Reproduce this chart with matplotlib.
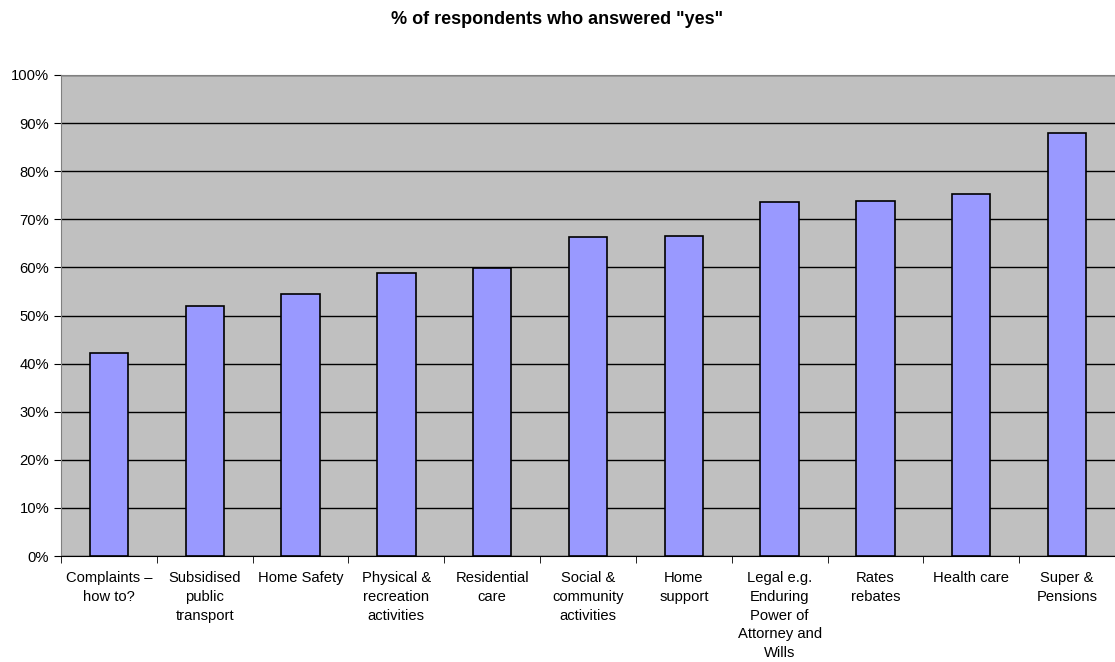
import numpy as np
import matplotlib
matplotlib.use("Agg")
import matplotlib.pyplot as plt
from matplotlib.ticker import FixedLocator, PercentFormatter

categories = [
    "Complaints –\nhow to?",
    "Subsidised\npublic\ntransport",
    "Home Safety",
    "Physical &\nrecreation\nactivities",
    "Residential\ncare",
    "Social &\ncommunity\nactivities",
    "Home\nsupport",
    "Legal e.g.\nEnduring\nPower of\nAttorney and\nWills",
    "Rates\nrebates",
    "Health care",
    "Super &\nPensions",
]
yes_pct = [42.3, 52.0, 54.5, 58.8, 59.8, 66.3, 66.5, 73.5, 73.8, 75.2, 87.9]

plt.rcParams["font.family"] = ["Liberation Sans", "DejaVu Sans"]

fig = plt.figure(figsize=(11.15, 6.62), dpi=100)
ax = fig.add_axes([61 / 1115, 1 - 556 / 662, 1 - 61 / 1115, (556 - 75) / 662])
ax.set_facecolor("#C0C0C0")

x = np.arange(len(categories))
ax.bar(x, yes_pct, width=0.4, color="#9999FF", edgecolor="black", linewidth=1.2, zorder=3)

ax.set_ylim(0, 100)
ax.set_xlim(-0.5, len(categories) - 0.5)
ax.set_yticks(np.arange(0, 101, 10))
ax.yaxis.set_major_formatter(PercentFormatter(decimals=0))
ax.grid(axis="y", color="black", lw=1, zorder=1)

ax.set_xticks(x)
ax.set_xticklabels(categories, fontsize=10.6, va="top", linespacing=1.42)
ax.tick_params(axis="x", which="major", length=0, pad=11)
ax.xaxis.set_minor_locator(FixedLocator(np.arange(-0.5, len(categories), 1.0)))
ax.tick_params(axis="x", which="minor", length=5, color="black", direction="out")
ax.tick_params(axis="y", labelsize=10.6, length=5, direction="out")

ax.spines["right"].set_visible(False)
ax.spines["top"].set_color("#808080")
ax.spines["left"].set_color("#808080")
ax.spines["bottom"].set_color("black")

fig.text(0.5, 1 - 20 / 662, '% of respondents who answered "yes"',
         ha="center", va="center", fontsize=13, fontweight="bold")

fig.savefig("out.png", dpi=100)
